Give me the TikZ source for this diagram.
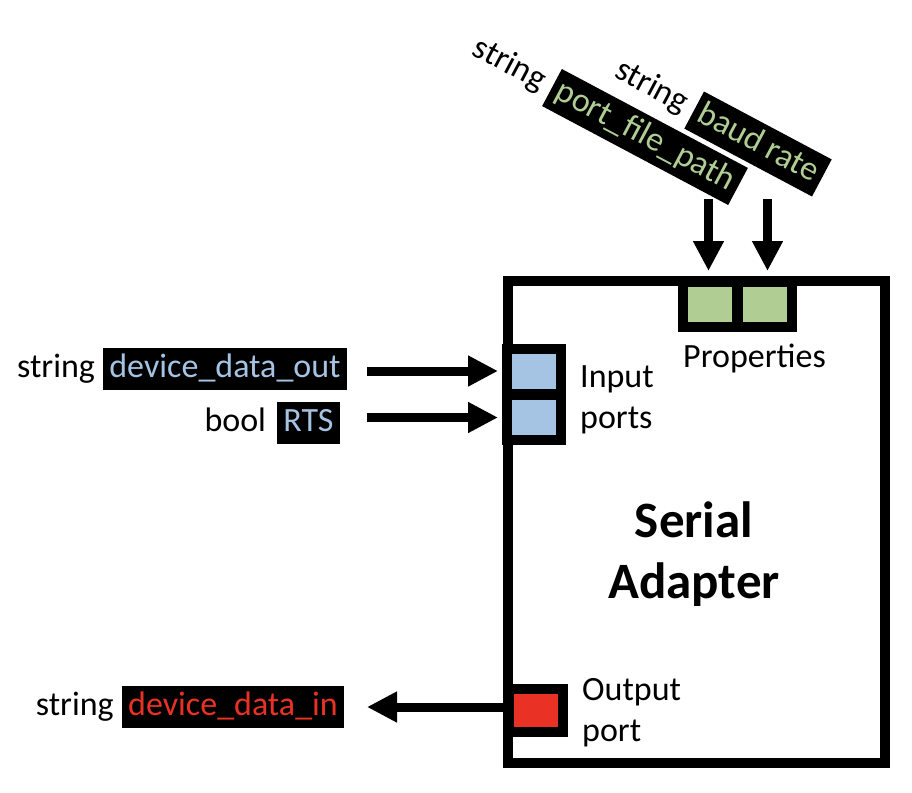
\documentclass[tikz,border=0pt]{standalone}
\usepackage{fontspec}
\setmainfont{Carlito}
\usetikzlibrary{arrows.meta,calc}
\definecolor{portblue}{RGB}{165,195,226}
\definecolor{portgreen}{RGB}{176,206,148}
\definecolor{portred}{RGB}{233,49,38}
\begin{document}
\begin{tikzpicture}[x=1pt,y=-1pt,
  txt/.style={font=\fontsize{34}{41}\selectfont, inner sep=0pt},
  lbl/.style={txt, text height=25.5pt, text depth=8.5pt},
  tagbox/.style={lbl, fill=black, inner xsep=6pt, inner ysep=4pt},
  portbox/.style={draw=black, line width=10pt, minimum width=54pt, minimum height=45pt, inner sep=0pt},
  arr/.style={line width=9pt, -{Triangle[length=30pt,width=29pt]}},
  mainbox/.style={draw=black, line width=10pt, inner sep=0pt}
]
\fill[white] (0,0) rectangle (912,792);
\useasboundingbox (0,0) rectangle (912,792);

% main block
\node[mainbox, minimum width=377pt, minimum height=482pt] (sa) at (696.5,521.5) {};

% ports
\node[portbox, fill=portgreen] (pp1) at (710,304.5) {};
\node[portbox, fill=portgreen] (pp2) at (765,304.5) {};
\node[portbox, fill=portblue] (ip1) at (534,371.5) {};
\node[portbox, fill=portblue] (ip2) at (534,417) {};
\node[portbox, fill=portred, minimum height=43pt] (op) at (536,710.5) {};

% texts inside block
\node[txt, anchor=base west] (props) at (683,367) {Properties};
\node[txt, anchor=base west] (inl) at (580,387) {\begin{tabular}[t]{@{}l@{}}Input\\ports\end{tabular}};
\node[txt, anchor=base west] (outl) at (582,700) {\begin{tabular}[t]{@{}l@{}}Output\\port\end{tabular}};
\node[font=\bfseries\fontsize{51}{61}\selectfont, inner sep=0pt, anchor=base] (title) at (694,537) {\begin{tabular}[t]{@{}c@{}}Serial\\Adapter\end{tabular}};

% left labels
\node[tagbox, text=portblue] (dout) at (225,369) {device\_data\_out};
\node[lbl, anchor=east] (doutT) at ($(dout.west)+(-8,0)$) {string};
\node[tagbox, text=portblue] (rts) at (308.5,423) {RTS};
\node[lbl, anchor=east] (rtsT) at ($(rts.west)+(-11,0)$) {bool};
\node[tagbox, text=portred] (din) at (233,707) {device\_data\_in};
\node[lbl, anchor=east] (dinT) at ($(din.west)+(-8,0)$) {string};

% top rotated labels
\node[tagbox, text=portgreen, rotate=-28] (pfp) at (645,137) {port\_file\_path};
\node[lbl, rotate=-28, anchor=east] (pfpT) at ($(pfp.west)+(208:9)$) {string};
\node[tagbox, text=portgreen, rotate=-28] (baud) at (758,144) {baud rate};
\node[lbl, rotate=-28, anchor=east] (baudT) at ($(baud.west)+(208:9)$) {string};

% connectors
\coordinate (a1) at (367,371);
\coordinate (a2) at (367,417.5);
\coordinate (t1) at (708.5,199);
\coordinate (t2) at (767.5,199);
\coordinate (o1) at (367,707);
\draw[arr, shorten >=4pt] (a1) -- (a1 -| ip1.west);
\draw[arr, shorten >=4pt] (a2) -- (a2 -| ip2.west);
\draw[arr, shorten >=6pt] (t1) -- (t1 |- pp1.north);
\draw[arr, shorten >=6pt] (t2) -- (t2 |- pp2.north);
\draw[arr] (o1 -| op.west) -- (o1);
\end{tikzpicture}
\end{document}
